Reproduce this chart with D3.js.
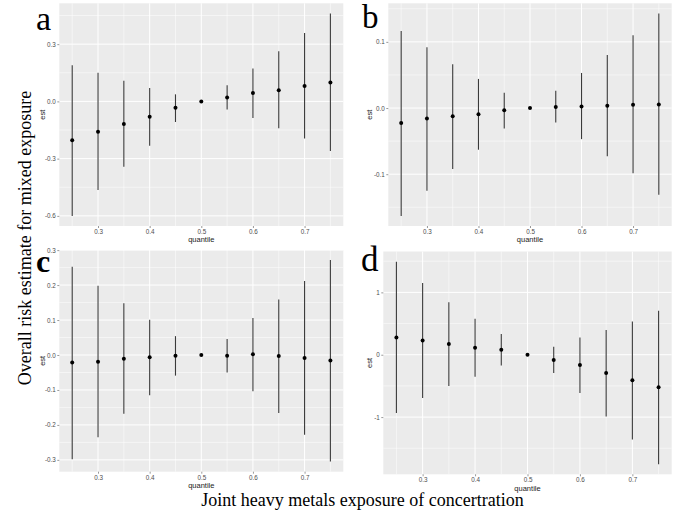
<!DOCTYPE html>
<html>
<head>
<meta charset="utf-8">
<script src="https://cdn.jsdelivr.net/npm/d3@7/dist/d3.min.js"></script>
<style>
	body { margin: 0; background: #fff; }
</style>
</head>
<body>
<div id="chart"></div>
<script>
	//
	// Data
	//
	let quantiles = [0.25, 0.30, 0.35, 0.40, 0.45, 0.50, 0.55, 0.60, 0.65, 0.70, 0.75];

	let aEst   = [-0.204, -0.159, -0.119, -0.080, -0.033, 0, 0.021, 0.044, 0.059, 0.080, 0.099];
	let aLower = [-0.600, -0.464, -0.342, -0.232, -0.108, 0, -0.042, -0.087, -0.141, -0.195, -0.260];
	let aUpper = [0.190, 0.150, 0.108, 0.070, 0.037, 0, 0.084, 0.173, 0.263, 0.358, 0.461];

	let bEst   = [-0.0226, -0.016, -0.0126, -0.0095, -0.0035, 0, 0.0015, 0.0025, 0.0035, 0.005, 0.0055];
	let bLower = [-0.163, -0.125, -0.092, -0.063, -0.031, 0, -0.022, -0.047, -0.073, -0.0985, -0.131];
	let bUpper = [0.1166, 0.092, 0.066, 0.044, 0.023, 0, 0.026, 0.053, 0.080, 0.110, 0.143];

	let cEst   = [-0.0218, -0.019, -0.011, -0.0066, -0.002, 0, -0.002, 0.002, -0.003, -0.0085, -0.016];
	let cLower = [-0.298, -0.235, -0.168, -0.115, -0.059, 0, -0.050, -0.104, -0.166, -0.228, -0.305];
	let cUpper = [0.2526, 0.198, 0.148, 0.101, 0.054, 0, 0.046, 0.106, 0.159, 0.212, 0.2715];

	let dEst   = [0.277, 0.229, 0.171, 0.112, 0.080, 0, -0.085, -0.165, -0.293, -0.411, -0.523];
	let dLower = [-0.933, -0.693, -0.501, -0.352, -0.171, 0, -0.293, -0.613, -0.992, -1.360, -1.755];
	let dUpper = [1.493, 1.152, 0.843, 0.576, 0.331, 0, 0.128, 0.277, 0.395, 0.533, 0.704];

	// Tick values / labels
	let xTicks = [0.3, 0.4, 0.5, 0.6, 0.7];
	let xTickLabels = ['0.3', '0.4', '0.5', '0.6', '0.7'];
	let xMinor = [0.25, 0.35, 0.45, 0.55, 0.65, 0.75];

	let aYTicks = [-0.6, -0.3, 0, 0.3];
	let aYLabels = ['-0.6', '-0.3', '0.0', '0.3'];
	let aYMinor = [-0.45, -0.15, 0.15, 0.45];

	let bYTicks = [-0.1, 0, 0.1];
	let bYLabels = ['-0.1', '0.0', '0.1'];
	let bYMinor = [-0.15, -0.05, 0.05, 0.15];

	let cYTicks = [-0.3, -0.2, -0.1, 0, 0.1, 0.2, 0.3];
	let cYLabels = ['-0.3', '-0.2', '-0.1', '0.0', '0.1', '0.2', '0.3'];
	let cYMinor = [-0.25, -0.15, -0.05, 0.05, 0.15, 0.25];

	let dYTicks = [-1, 0, 1];
	let dYLabels = ['-1', '0', '1'];
	let dYMinor = [-1.5, -0.5, 0.5, 1.5];

	let panelLetters = ['a', 'b', 'c', 'd'];
	let yTitle = 'Overall risk estimate for mixed exposure';
	let xTitle = 'Joint heavy metals exposure of concertration';

	//
	// Layout
	//
	var svg_width = 685,
	svg_height = 513;

	var panels = [
		{ letter: panelLetters[0], est: aEst, lo: aLower, hi: aUpper, yt: aYTicks, yl: aYLabels, ym: aYMinor,
		  x0: 59.3, x1: 343.3, y0: 3.3, y1: 226, estX: 44.5, lx: 36, ly: 29.5, lsize: 34, lbold: false },
		{ letter: panelLetters[1], est: bEst, lo: bLower, hi: bUpper, yt: bYTicks, yl: bYLabels, ym: bYMinor,
		  x0: 388.3, x1: 671.7, y0: 3.3, y1: 226, estX: 372, lx: 362, ly: 28, lsize: 33, lbold: false },
		{ letter: panelLetters[2], est: cEst, lo: cLower, hi: cUpper, yt: cYTicks, yl: cYLabels, ym: cYMinor,
		  x0: 59.3, x1: 343.3, y0: 250, y1: 471.7, estX: 44.5, lx: 36, ly: 272, lsize: 32, lbold: true },
		{ letter: panelLetters[3], est: dEst, lo: dLower, hi: dUpper, yt: dYTicks, yl: dYLabels, ym: dYMinor,
		  x0: 383.3, x1: 671.7, y0: 251.5, y1: 474.3, estX: 372, lx: 361, ly: 270.5, lsize: 35, lbold: false }
	];

	var svg = d3.select("#chart").append("svg")
		.attr("width", svg_width)
		.attr("height", svg_height);

	panels.forEach(function(p) {
		var lowAll = d3.min(p.lo), highAll = d3.max(p.hi);
		var pad = (highAll - lowAll) * 0.05;

		var x = d3.scaleLinear().domain([0.225, 0.775]).range([p.x0, p.x1]);
		var y = d3.scaleLinear().domain([lowAll - pad, highAll + pad]).range([p.y1, p.y0]);

		var g = svg.append("g");

		// panel background
		g.append("rect")
			.attr("x", p.x0).attr("y", p.y0)
			.attr("width", p.x1 - p.x0).attr("height", p.y1 - p.y0)
			.attr("fill", "#ebebeb");

		// minor grid
		g.selectAll(".ym").data(p.ym.filter(function(v) { return v > y.domain()[0] && v < y.domain()[1]; }))
			.enter().append("line")
			.attr("x1", p.x0).attr("x2", p.x1)
			.attr("y1", function(d) { return y(d); }).attr("y2", function(d) { return y(d); })
			.attr("stroke", "#fff").attr("stroke-width", 0.5);
		g.selectAll(".xm").data(xMinor)
			.enter().append("line")
			.attr("y1", p.y0).attr("y2", p.y1)
			.attr("x1", function(d) { return x(d); }).attr("x2", function(d) { return x(d); })
			.attr("stroke", "#fff").attr("stroke-width", 0.5);

		// major grid
		g.selectAll(".yg").data(p.yt)
			.enter().append("line")
			.attr("x1", p.x0).attr("x2", p.x1)
			.attr("y1", function(d) { return y(d); }).attr("y2", function(d) { return y(d); })
			.attr("stroke", "#fff").attr("stroke-width", 1);
		g.selectAll(".xg").data(xTicks)
			.enter().append("line")
			.attr("y1", p.y0).attr("y2", p.y1)
			.attr("x1", function(d) { return x(d); }).attr("x2", function(d) { return x(d); })
			.attr("stroke", "#fff").attr("stroke-width", 1);

		// axes
		var yAxis = d3.axisLeft(y).tickValues(p.yt)
			.tickFormat(function(d, i) { return p.yl[i]; })
			.tickSize(2).tickPadding(1.5);
		var xAxis = d3.axisBottom(x).tickValues(xTicks)
			.tickFormat(function(d, i) { return xTickLabels[i]; })
			.tickSize(2).tickPadding(1.5);

		var ya = g.append("g").attr("transform", "translate(" + p.x0 + ",0)").call(yAxis);
		var xa = g.append("g").attr("transform", "translate(0," + p.y1 + ")").call(xAxis);
		[ya, xa].forEach(function(a) {
			a.select(".domain").remove();
			a.selectAll("line").attr("stroke", "#333").attr("stroke-width", 0.5);
			a.selectAll("text")
				.attr("fill", "#4d4d4d")
				.style("font-family", "'Liberation Sans', Arial, sans-serif")
				.style("font-size", "6.3px");
		});

		// axis titles
		g.append("text")
			.attr("transform", "translate(" + p.estX + "," + ((p.y0 + p.y1) / 2) + ") rotate(-90)")
			.attr("text-anchor", "middle")
			.style("font-family", "'Liberation Sans', Arial, sans-serif")
			.style("font-size", "7.5px")
			.attr("fill", "#1a1a1a")
			.text("est");
		g.append("text")
			.attr("x", (p.x0 + p.x1) / 2)
			.attr("y", p.y1 + 16.3)
			.attr("text-anchor", "middle")
			.style("font-family", "'Liberation Sans', Arial, sans-serif")
			.style("font-size", "7.5px")
			.attr("fill", "#1a1a1a")
			.text("quantile");

		// error bars
		g.selectAll(".bar").data(quantiles)
			.enter().append("line")
			.attr("x1", function(d) { return x(d); }).attr("x2", function(d) { return x(d); })
			.attr("y1", function(d, i) { return y(p.lo[i]); })
			.attr("y2", function(d, i) { return y(p.hi[i]); })
			.attr("stroke", "#3a3a3a")
			.attr("stroke-width", 1.1);

		// points
		g.selectAll(".pt").data(quantiles)
			.enter().append("circle")
			.attr("cx", function(d) { return x(d); })
			.attr("cy", function(d, i) { return y(p.est[i]); })
			.attr("r", 2)
			.attr("fill", "#000");

		// panel letter
		svg.append("text")
			.attr("x", p.lx).attr("y", p.ly)
			.style("font-family", "'Liberation Serif', 'Times New Roman', serif")
			.style("font-size", p.lsize + "px")
			.style("font-weight", p.lbold ? "bold" : "normal")
			.text(p.letter);
	});

	// overall titles
	svg.append("text")
		.attr("transform", "translate(31,238) rotate(-90)")
		.attr("text-anchor", "middle")
		.style("font-family", "'Liberation Serif', 'Times New Roman', serif")
		.style("font-size", "18px")
		.text(yTitle);

	svg.append("text")
		.attr("x", 362.5).attr("y", 505.5)
		.attr("text-anchor", "middle")
		.style("font-family", "'Liberation Serif', 'Times New Roman', serif")
		.style("font-size", "18px")
		.text(xTitle);
</script>
</body>
</html>
